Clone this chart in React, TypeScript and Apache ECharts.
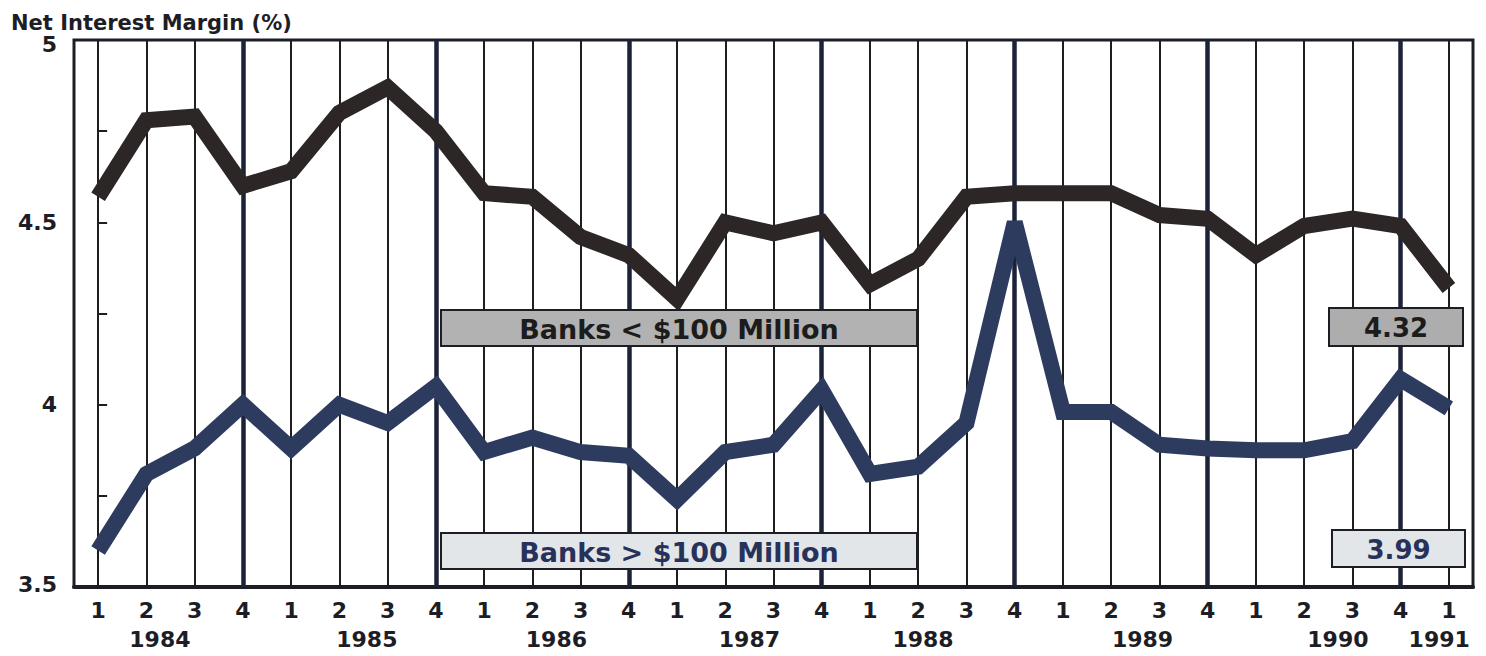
import React, { useEffect, useRef } from "react";
import * as echarts from "echarts";

// ---- data ----
const quarterLabels = [
  "1", "2", "3", "4",
  "1", "2", "3", "4",
  "1", "2", "3", "4",
  "1", "2", "3", "4",
  "1", "2", "3", "4",
  "1", "2", "3", "4",
  "1", "2", "3", "4",
  "1",
];
const periodYears = [
  1984, 1984, 1984, 1984,
  1985, 1985, 1985, 1985,
  1986, 1986, 1986, 1986,
  1987, 1987, 1987, 1987,
  1988, 1988, 1988, 1988,
  1989, 1989, 1989, 1989,
  1990, 1990, 1990, 1990,
  1991,
];
const yearLabels = ["1984", "1985", "1986", "1987", "1988", "1989", "1990", "1991"];
const seriesNames = ["Banks < $100 Million", "Banks > $100 Million"];
const smallBanks = [
  4.57, 4.78, 4.79, 4.6, 4.64, 4.8, 4.87, 4.75, 4.58, 4.57, 4.46, 4.41, 4.29, 4.5, 4.47,
  4.5, 4.33, 4.4, 4.57, 4.58, 4.58, 4.58, 4.52, 4.51, 4.41, 4.49, 4.51, 4.49, 4.32,
];
const largeBanks = [
  3.6, 3.81, 3.88, 4.0, 3.88, 4.0, 3.95, 4.05, 3.87, 3.91, 3.87, 3.86, 3.74, 3.87, 3.89,
  4.04, 3.81, 3.83, 3.95, 4.5, 3.98, 3.98, 3.89, 3.88, 3.875, 3.875, 3.9, 4.07, 3.99,
];
const yMin = 3.5;
const yMax = 5;
const yTickStep = 0.25;
const axisTitle = "Net Interest Margin (%)";

// ---- layout (positions of the year labels, in category units) ----
const YEAR_LABEL_POS = [1.28, 5.57, 9.5, 13.5, 17.1, 21.65, 25.7, 27.8];

const categories = quarterLabels.map((q, i) => `${periodYears[i]} Q${q}`);

const FONT = '"DejaVu Sans", "Liberation Sans", sans-serif';
const INK = "#1d1d26";
const BLACK_LINE = "#2c2626";
const NAVY_LINE = "#2d3b5f";

function box(x: number, y: number, w: number, h: number, fill: string, text: string, color: string, fontSize: number) {
  return {
    type: "group",
    x,
    y,
    z: 20,
    silent: true,
    children: [
      {
        type: "rect",
        shape: { x: 0, y: 0, width: w, height: h },
        style: { fill, stroke: INK, lineWidth: 2 },
        z: 20,
      },
      {
        type: "text",
        x: w / 2,
        y: h / 2 + 1,
        z: 21,
        style: {
          text,
          fill: color,
          font: `bold ${fontSize}px ${FONT}`,
          align: "center",
          verticalAlign: "middle",
        },
      },
    ],
  };
}

const labelFont = { fontFamily: FONT, fontWeight: "bold" as const, fontSize: 22, color: INK };

export default function App() {
  const ref = useRef<HTMLDivElement>(null);

  useEffect(() => {
    if (!ref.current) return;
    const chart = echarts.init(ref.current, null, { renderer: "svg" });

    const gridLines = categories.map((c, i) => ({
      xAxis: i,
      lineStyle: {
        color: quarterLabels[i] === "4" ? "#1c2238" : "#1e1e1e",
        width: quarterLabels[i] === "4" ? 4.5 : 2,
        type: "solid",
      },
    }));

    const lastSmall = smallBanks[smallBanks.length - 1];
    const lastLarge = largeBanks[largeBanks.length - 1];

    chart.setOption({
      animation: false,
      backgroundColor: "#ffffff",
      title: {
        text: axisTitle,
        left: 6,
        top: 7,
        textStyle: { fontFamily: FONT, fontWeight: "bold", fontSize: 21, color: INK },
      },
      grid: {
        left: 74,
        right: 13,
        top: 40,
        bottom: 69,
        show: true,
        borderColor: INK,
        borderWidth: 3,
        backgroundColor: "transparent",
      },
      xAxis: [
        {
          type: "category",
          data: categories,
          boundaryGap: true,
          axisLine: { show: true, lineStyle: { color: INK, width: 4 } },
          axisTick: { show: false },
          splitLine: { show: false },
          axisLabel: {
            interval: 0,
            margin: 12,
            formatter: (_v: string, i: number) => quarterLabels[i],
            ...labelFont,
          },
        },
        {
          type: "value",
          min: -0.5,
          max: categories.length - 0.5,
          show: false,
        },
      ],
      yAxis: {
        type: "value",
        min: yMin,
        max: yMax,
        interval: yTickStep,
        axisLine: { show: false },
        splitLine: { show: false },
        axisTick: { show: true, inside: true, length: 9, lineStyle: { color: INK, width: 2 } },
        axisLabel: {
          margin: 17,
          formatter: (v: number) => {
            if (Math.round(v * 100) % 50 !== 0) return "";
            if (v === yMax) return `{top|${v}}`;
            if (v === yMin) return `{bot|${v}}`;
            return String(v);
          },
          ...labelFont,
          rich: {
            top: { ...labelFont, padding: [9, 0, 0, 0] },
            bot: { ...labelFont, padding: [0, 0, 6, 0] },
          },
        },
      },
      series: [
        {
          type: "line",
          data: [],
          z: 1,
          silent: true,
          markLine: {
            z: 1,
            silent: true,
            animation: false,
            symbol: ["none", "none"],
            label: { show: false },
            data: gridLines,
          },
        },
        {
          name: seriesNames[0],
          type: "line",
          data: smallBanks,
          z: 10,
          symbol: "none",
          silent: true,
          lineStyle: { color: BLACK_LINE, width: 16, join: "miter", miterLimit: 10, cap: "butt" },
        },
        {
          name: seriesNames[1],
          type: "line",
          data: largeBanks,
          z: 11,
          symbol: "none",
          silent: true,
          lineStyle: { color: NAVY_LINE, width: 16, join: "miter", miterLimit: 10, cap: "butt" },
        },
        {
          type: "scatter",
          xAxisIndex: 1,
          yAxisIndex: 0,
          z: 12,
          silent: true,
          clip: false,
          symbolSize: 1,
          itemStyle: { color: "rgba(0,0,0,0)", opacity: 1 },
          data: YEAR_LABEL_POS.map((p) => [p, yMin]),
          label: {
            show: true,
            position: "bottom",
            distance: 41,
            opacity: 1,
            formatter: (p: any) => yearLabels[p.dataIndex],
            ...labelFont,
          },
        },
      ],
      graphic: [
        box(441, 310, 476, 36, "#b2b2b2", seriesNames[0], "#1c1c1c", 27),
        box(441, 533, 476, 36, "#e3e6e8", seriesNames[1], "#27325a", 27),
        box(1329, 308, 134, 38, "#adadad", lastSmall.toFixed(2), "#1c1c1c", 26),
        box(1332, 530, 133, 37, "#e3e6e8", lastLarge.toFixed(2), "#27325a", 26),
      ],
    });

    return () => chart.dispose();
  }, []);

  return (
    <div
      ref={ref}
      style={{ position: "fixed", left: 0, top: 0, width: 1486, height: 656, background: "#fff" }}
    />
  );
}
